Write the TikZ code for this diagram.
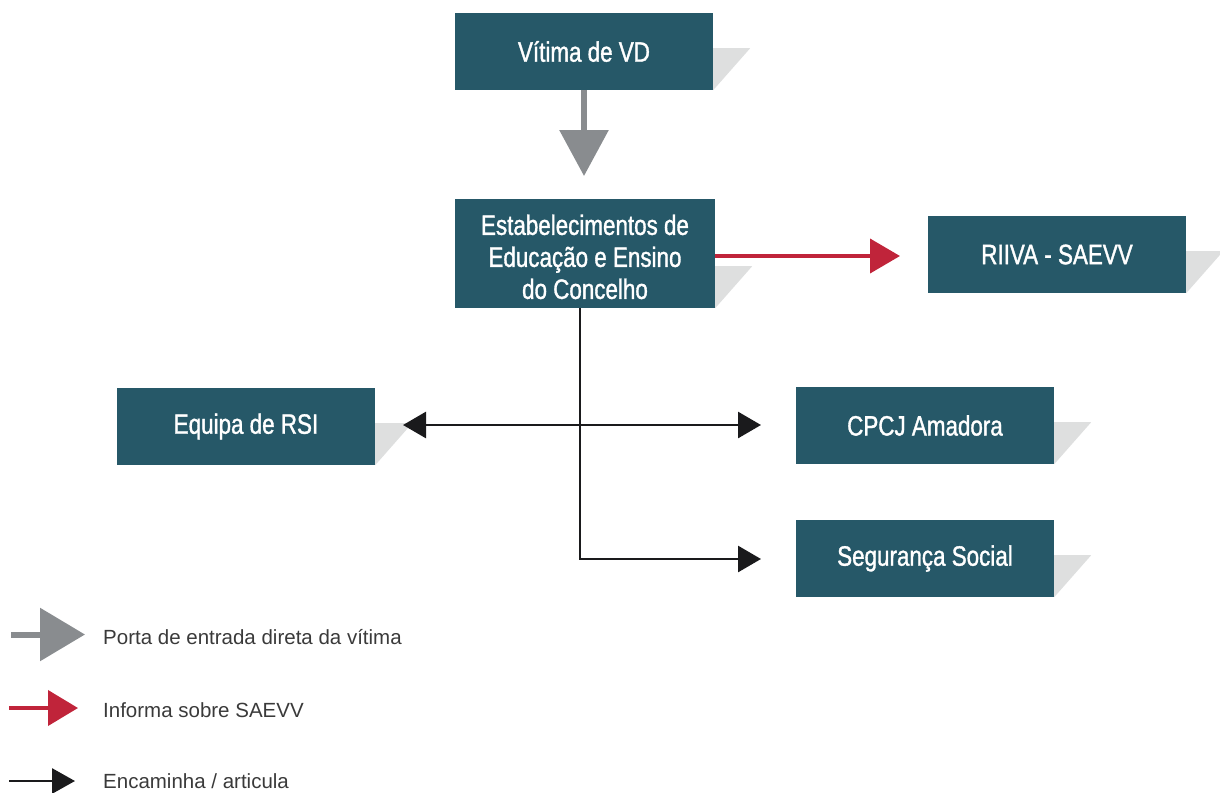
\documentclass[tikz,border=0pt]{standalone}
\usepackage{fontspec}
\setmainfont{Liberation Sans}
\newfontfamily\boxfont[FakeStretch=0.8,FakeBold=1.2]{Liberation Sans}
\usetikzlibrary{arrows.meta,backgrounds}
\definecolor{boxteal}{HTML}{265868}
\definecolor{shadowgray}{HTML}{DEDFDF}
\definecolor{arrgray}{HTML}{898C8F}
\definecolor{arrred}{HTML}{C0243A}
\definecolor{arrblack}{HTML}{1A1A1C}
\definecolor{legtext}{HTML}{3A3A3A}
\tikzset{
  flowbox/.style={fill=boxteal, text=white, minimum width=258pt, minimum height=77pt,
    inner sep=0pt, align=center, font=\boxfont\fontsize{28}{32}\selectfont},
  boxshadow/.style={fill=shadowgray},
  grayarrow/.style={draw=arrgray, line width=6pt, -{Triangle[length=46pt,width=48pt]}, color=arrgray},
  redarrow/.style={draw=arrred, line width=4pt, -{Triangle[length=30pt,width=34pt]}, color=arrred},
  blackarrow/.style={draw=arrblack, line width=2.8pt, -{Triangle[length=23pt,width=26pt]}, color=arrblack},
  blackdouble/.style={draw=arrblack, line width=2.8pt, {Triangle[length=23pt,width=26pt]}-{Triangle[length=23pt,width=26pt]}, color=arrblack},
  legendtext/.style={anchor=base west, inner sep=0pt, text=legtext, font=\fontsize{20.5}{24}\selectfont},
}
\begin{document}
\begin{tikzpicture}[x=1pt,y=-1pt]
\useasboundingbox (0,0) rectangle (1220,792);
% boxes
\node[flowbox] (vd) at (584,51.5) {Vítima de VD};
\node[flowbox, minimum width=260pt, minimum height=109pt] (edu) at (585,253.5) {\rule{0pt}{27pt}Estabelecimentos de\\Educação e Ensino\\do Concelho};
\node[flowbox] (riiva) at (1057,254.5) {RIIVA - SAEVV};
\node[flowbox] (rsi) at (246,426.5) {Equipa de RSI};
\node[flowbox] (cpcj) at (925,425.5) {CPCJ Amadora};
\node[flowbox] (seg) at (925,558.5) {Segurança Social};
% shadows
\begin{pgfonlayer}{background}
\foreach \b in {vd,edu,riiva,rsi,cpcj,seg}{
  \fill[boxshadow] ([yshift=42pt]\b.south east) -- ++(37,0) -- (\b.south east) -- cycle;
}
\end{pgfonlayer}
% connectors
\coordinate (vdout) at (584,90);
\coordinate (eduin) at (584,176);
\draw[grayarrow] (vdout) -- (eduin);
\coordinate (redstart) at (715,256);
\coordinate (redend) at (900,256);
\draw[redarrow] (redstart) -- (redend);
\coordinate (dblL) at (403,425);
\coordinate (dblR) at (761,425);
\draw[blackdouble] (dblL) -- (dblR);
\coordinate (vstart) at (580,308);
\coordinate (segin) at (761,559);
\draw[blackarrow] (vstart) |- (segin);
% legend
\coordinate (lg1a) at (11,634.5);
\coordinate (lg1b) at (85,634.5);
\draw[grayarrow, -{Triangle[length=45pt,width=52pt]}] (lg1a) -- (lg1b);
\node[legendtext] (lt1) at (103,644) {Porta de entrada direta da vítima};
\coordinate (lg2a) at (9,708);
\coordinate (lg2b) at (78,708);
\draw[redarrow, -{Triangle[length=30pt,width=35pt]}] (lg2a) -- (lg2b);
\node[legendtext] (lt2) at (103,717) {Informa sobre SAEVV};
\coordinate (lg3a) at (9,781);
\coordinate (lg3b) at (75,781);
\draw[blackarrow, -{Triangle[length=23pt,width=25pt]}] (lg3a) -- (lg3b);
\node[legendtext] (lt3) at (103,788) {Encaminha / articula};
\end{tikzpicture}
\end{document}
